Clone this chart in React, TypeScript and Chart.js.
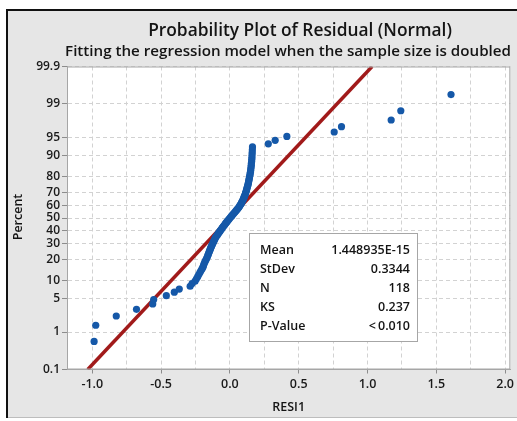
import React, { useEffect, useRef } from 'react';
import { Chart, registerables } from 'chart.js';

Chart.register(...registerables);

// Sorted residuals (RESI1)
const residuals: number[] = [
  -0.987, -0.975, -0.826, -0.679, -0.561, -0.554, -0.462, -0.404, -0.368, -0.289,
  -0.275, -0.253, -0.243, -0.234, -0.226, -0.218, -0.211, -0.203, -0.196, -0.192,
  -0.188, -0.183, -0.178, -0.172, -0.167, -0.163, -0.159, -0.155, -0.152, -0.148,
  -0.144, -0.141, -0.137, -0.133, -0.129, -0.125, -0.121, -0.117, -0.113, -0.109,
  -0.105, -0.100, -0.094, -0.089, -0.083, -0.078, -0.072, -0.067, -0.061, -0.056,
  -0.050, -0.044, -0.038, -0.033, -0.027, -0.021, -0.015, -0.009, -0.003, 0.003,
  0.010, 0.016, 0.022, 0.029, 0.035, 0.041, 0.048, 0.054, 0.061, 0.066,
  0.071, 0.076, 0.081, 0.085, 0.089, 0.093, 0.097, 0.100, 0.103, 0.106,
  0.110, 0.113, 0.115, 0.118, 0.121, 0.123, 0.126, 0.128, 0.131, 0.133,
  0.135, 0.137, 0.139, 0.141, 0.143, 0.145, 0.147, 0.149, 0.151, 0.152,
  0.154, 0.155, 0.156, 0.158, 0.159, 0.160, 0.161, 0.162, 0.163, 0.164,
  0.279, 0.329, 0.414, 0.758, 0.811, 1.172, 1.242, 1.607,
];

const percentTicks: number[] = [0.1, 1, 5, 10, 20, 30, 40, 50, 60, 70, 80, 90, 95, 99, 99.9];
const xGridValues: number[] = [-1.0, -0.75, -0.5, -0.25, 0, 0.25, 0.5, 0.75, 1.0, 1.25, 1.5, 1.75, 2.0];
const xTickLabels: string[] = ['-1.0', '', '-0.5', '', '0.0', '', '0.5', '', '1.0', '', '1.5', '', '2.0'];

const fitMean = 1.448935e-15;
const fitStDev = 0.3344;

const statLabels: string[] = ['Mean', 'StDev', 'N', 'KS', 'P-Value'];
const statValues: string[] = ['1.448935E-15', '0.3344', '118', '0.237', '<\u20090.010'];

const titleText = 'Probability Plot of Residual (Normal)';
const subtitleText = 'Fitting the regression model when the sample size is doubled';
const xTitle = 'RESI1';
const yTitle = 'Percent';

// inverse standard normal CDF (Acklam)
function probit(p: number): number {
  const a = [-3.969683028665376e1, 2.209460984245205e2, -2.759285104469687e2, 1.38357751867269e2, -3.066479806614716e1, 2.506628277459239];
  const b = [-5.447609879822406e1, 1.615858368580409e2, -1.556989798598866e2, 6.680131188771972e1, -1.328068155911623e1];
  const c = [-7.784894002430293e-3, -3.223964580411365e-1, -2.400758277161838, -2.549732539343734, 4.374664141464968, 2.938163982698783];
  const d = [7.784695709041462e-3, 3.224671290700398e-1, 2.445134137142996, 3.754408661907416];
  const pl = 0.02425;
  if (p < pl) {
    const q = Math.sqrt(-2 * Math.log(p));
    return (((((c[0] * q + c[1]) * q + c[2]) * q + c[3]) * q + c[4]) * q + c[5]) / ((((d[0] * q + d[1]) * q + d[2]) * q + d[3]) * q + 1);
  }
  if (p <= 1 - pl) {
    const q = p - 0.5;
    const r = q * q;
    return ((((((a[0] * r + a[1]) * r + a[2]) * r + a[3]) * r + a[4]) * r + a[5]) * q) / (((((b[0] * r + b[1]) * r + b[2]) * r + b[3]) * r + b[4]) * r + 1);
  }
  const q = Math.sqrt(-2 * Math.log(1 - p));
  return -(((((c[0] * q + c[1]) * q + c[2]) * q + c[3]) * q + c[4]) * q + c[5]) / ((((d[0] * q + d[1]) * q + d[2]) * q + d[3]) * q + 1);
}

const FONT = '"Open Sans", "Noto Sans", sans-serif';

function fitFont(ctx: CanvasRenderingContext2D, text: string, weight: string, target: number): string {
  ctx.font = `${weight} 20px ${FONT}`;
  const w = ctx.measureText(text).width;
  const size = (20 * target) / w;
  return `${weight} ${size.toFixed(2)}px ${FONT}`;
}

export default function App() {
  const ref = useRef<HTMLCanvasElement | null>(null);

  useEffect(() => {
    const canvas = ref.current;
    if (!canvas) return;
    const n = residuals.length;
    const points = residuals.map((r, i) => ({ x: r, y: probit((i + 1 - 0.3) / (n + 0.4)) }));
    const zLo = probit(percentTicks[0] / 100);
    const zHi = probit(percentTicks[percentTicks.length - 1] / 100);
    const fitLine = [
      { x: fitMean + fitStDev * zLo, y: zLo },
      { x: fitMean + fitStDev * zHi, y: zHi },
    ];

    const framePlugin = {
      id: 'frame',
      beforeDraw(chart: any) {
        const ctx = chart.ctx;
        const a = chart.chartArea;
        ctx.save();
        ctx.fillStyle = '#ffffff';
        ctx.fillRect(0, 0, chart.width, chart.height);
        ctx.fillStyle = '#e6e6e6';
        ctx.fillRect(7, 10, chart.width - 7, 408);
        ctx.fillStyle = '#bdbdbd';
        ctx.fillRect(7, 417, chart.width - 7, 1);
        ctx.fillStyle = '#111111';
        ctx.fillRect(6, 9, 2, 409);
        ctx.fillRect(6, 9, chart.width - 6, 2);
        ctx.fillStyle = '#ffffff';
        ctx.fillRect(a.left, a.top, a.right - a.left, a.bottom - a.top);
        ctx.restore();
      },
      afterDraw(chart: any) {
        const ctx = chart.ctx;
        const a = chart.chartArea;
        ctx.save();
        // plot border
        ctx.strokeStyle = '#a6a6a6';
        ctx.lineWidth = 1;
        ctx.strokeRect(a.left + 0.5, a.top + 0.5, a.right - a.left - 1, a.bottom - a.top - 1);
        // titles
        ctx.fillStyle = '#141414';
        ctx.textAlign = 'center';
        ctx.textBaseline = 'middle';
        ctx.font = fitFont(ctx, titleText, '600', 304);
        ctx.fillText(titleText, 300, 31.5);
        ctx.font = fitFont(ctx, subtitleText, '600', 446);
        ctx.fillText(subtitleText, 288, 51.5);
        // axis titles
        ctx.font = `600 12.5px ${FONT}`;
        ctx.fillText(xTitle, (a.left + a.right) / 2, 407);
        ctx.save();
        ctx.translate(18, 217);
        ctx.rotate(-Math.PI / 2);
        ctx.fillText(yTitle, 0, 0);
        ctx.restore();
        // stats box
        const bx = 249, by = 233, bw = 168, bh = 108;
        ctx.fillStyle = '#ffffff';
        ctx.fillRect(bx, by, bw, bh);
        ctx.strokeStyle = '#a6a6a6';
        ctx.strokeRect(bx + 0.5, by + 0.5, bw, bh);
        ctx.fillStyle = '#141414';
        ctx.font = `600 12.5px ${FONT}`;
        statLabels.forEach((lab, i) => {
          const y = 250 + i * 19.2;
          ctx.textAlign = 'left';
          ctx.fillText(lab, 260, y);
          ctx.textAlign = 'right';
          ctx.fillText(statValues[i], 410, y);
        });
        ctx.restore();
      },
    };

    const chart = new Chart(canvas, {
      type: 'scatter',
      data: {
        datasets: [
          {
            type: 'line',
            data: fitLine,
            borderColor: '#a11a1a',
            borderWidth: 3.5,
            pointRadius: 0,
            fill: false,
            order: 2,
          } as any,
          {
            data: points,
            backgroundColor: '#1558a8',
            borderWidth: 0,
            pointRadius: 3.6,
            pointHoverRadius: 3.6,
            order: 1,
          },
        ],
      },
      options: {
        animation: false,
        responsive: false,
        devicePixelRatio: 1,
        events: [],
        layout: { padding: { top: 66.5, left: 0, right: 3, bottom: 0 } },
        plugins: { legend: { display: false }, title: { display: false }, tooltip: { enabled: false } },
        scales: {
          x: {
            type: 'linear',
            min: -1.184,
            max: 2.038,
            afterFit(scale: any) { scale.height = 51.5; },
            afterBuildTicks(scale: any) { scale.ticks = xGridValues.map((v) => ({ value: v })); },
            ticks: {
              autoSkip: false,
              maxRotation: 0,
              padding: 3,
              color: '#1a1a1a',
              font: { family: FONT, size: 12.5, weight: '600' },
              callback: (_v: any, i: number) => xTickLabels[i],
            },
            grid: {
              color: '#d2d2d2',
              lineWidth: 1,
              tickLength: 4,
              tickColor: (c: any) => (c.index % 2 === 0 ? '#8c8c8c' : 'rgba(0,0,0,0)'),
            },
            border: { display: true, color: '#a6a6a6', dash: [4, 3] },
          },
          y: {
            type: 'linear',
            min: zLo,
            max: zHi,
            afterFit(scale: any) { scale.width = 67; },
            afterBuildTicks(scale: any) { scale.ticks = percentTicks.map((p) => ({ value: probit(p / 100) })); },
            ticks: {
              autoSkip: false,
              padding: 2,
              color: '#1a1a1a',
              font: { family: FONT, size: 12, weight: '600' },
              callback: (_v: any, i: number) => String(percentTicks[i]),
            },
            grid: {
              color: '#d2d2d2',
              lineWidth: 1,
              tickLength: 5,
              tickColor: '#8c8c8c',
            },
            border: { display: true, color: '#a6a6a6', dash: [4, 3] },
          },
        },
      },
      plugins: [framePlugin],
    } as any);
    return () => chart.destroy();
  }, []);

  return (
    <div style={{ position: 'fixed', left: 0, top: 0, width: 517, height: 421 }}>
      <canvas ref={ref} width={517} height={421} style={{ width: 517, height: 421, display: 'block' }} />
    </div>
  );
}
